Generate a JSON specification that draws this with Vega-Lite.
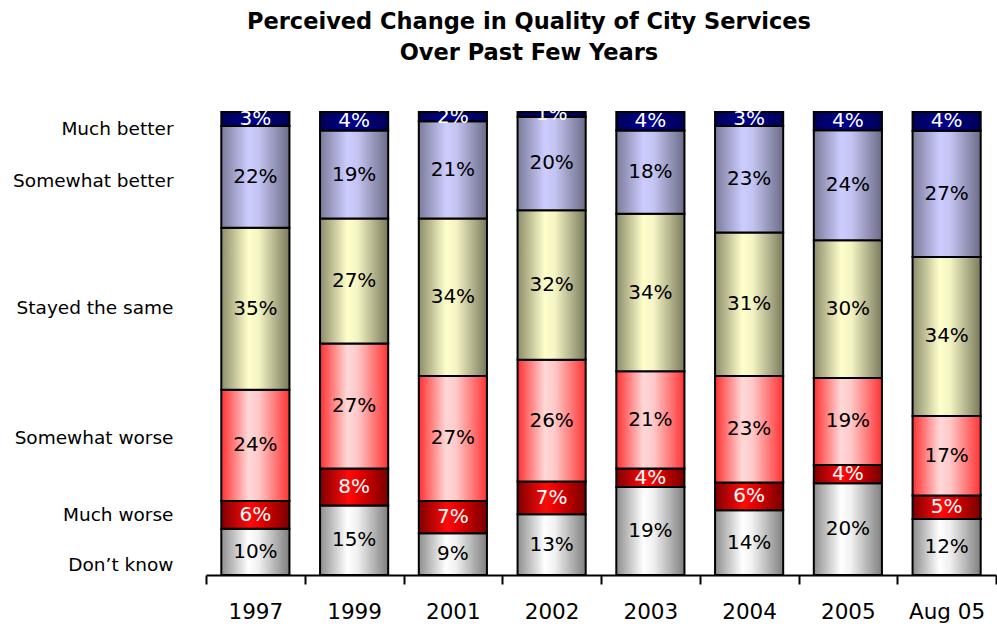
{
  "$schema": "https://vega.github.io/schema/vega-lite/v6.json",
  "width": 790,
  "height": 463,
  "autosize": {"type": "none"},
  "padding": {"left": 206, "top": 112, "right": 1, "bottom": 52},
  "background": "white",
  "title": {
    "text": ["Perceived Change in Quality of City Services", "Over Past Few Years"],
    "font": "DejaVu Sans",
    "fontSize": 22.5,
    "fontWeight": "bold",
    "color": "black",
    "lineHeight": 31,
    "anchor": "middle",
    "dx": -72,
    "offset": 40
  },
  "config": {
    "view": {"stroke": null},
    "font": "DejaVu Sans",
    "axisY": {
      "title": null,
      "domain": false,
      "ticks": false,
      "grid": false,
      "labelFontSize": 18.5,
      "labelFont": "DejaVu Sans",
      "labelColor": "black",
      "labelPadding": 33,
      "labelBaseline": "middle",
      "labelOverlap": false,
      "labelFlush": false
    }
  },
  "data": {
    "values": [
      {"year": "1997", "cat": "Don’t know", "order": 1, "value": 10},
      {"year": "1997", "cat": "Much worse", "order": 2, "value": 6},
      {"year": "1997", "cat": "Somewhat worse", "order": 3, "value": 24},
      {"year": "1997", "cat": "Stayed the same", "order": 4, "value": 35},
      {"year": "1997", "cat": "Somewhat better", "order": 5, "value": 22},
      {"year": "1997", "cat": "Much better", "order": 6, "value": 3},
      {"year": "1999", "cat": "Don’t know", "order": 1, "value": 15},
      {"year": "1999", "cat": "Much worse", "order": 2, "value": 8},
      {"year": "1999", "cat": "Somewhat worse", "order": 3, "value": 27},
      {"year": "1999", "cat": "Stayed the same", "order": 4, "value": 27},
      {"year": "1999", "cat": "Somewhat better", "order": 5, "value": 19},
      {"year": "1999", "cat": "Much better", "order": 6, "value": 4},
      {"year": "2001", "cat": "Don’t know", "order": 1, "value": 9},
      {"year": "2001", "cat": "Much worse", "order": 2, "value": 7},
      {"year": "2001", "cat": "Somewhat worse", "order": 3, "value": 27},
      {"year": "2001", "cat": "Stayed the same", "order": 4, "value": 34},
      {"year": "2001", "cat": "Somewhat better", "order": 5, "value": 21},
      {"year": "2001", "cat": "Much better", "order": 6, "value": 2},
      {"year": "2002", "cat": "Don’t know", "order": 1, "value": 13},
      {"year": "2002", "cat": "Much worse", "order": 2, "value": 7},
      {"year": "2002", "cat": "Somewhat worse", "order": 3, "value": 26},
      {"year": "2002", "cat": "Stayed the same", "order": 4, "value": 32},
      {"year": "2002", "cat": "Somewhat better", "order": 5, "value": 20},
      {"year": "2002", "cat": "Much better", "order": 6, "value": 1},
      {"year": "2003", "cat": "Don’t know", "order": 1, "value": 19},
      {"year": "2003", "cat": "Much worse", "order": 2, "value": 4},
      {"year": "2003", "cat": "Somewhat worse", "order": 3, "value": 21},
      {"year": "2003", "cat": "Stayed the same", "order": 4, "value": 34},
      {"year": "2003", "cat": "Somewhat better", "order": 5, "value": 18},
      {"year": "2003", "cat": "Much better", "order": 6, "value": 4},
      {"year": "2004", "cat": "Don’t know", "order": 1, "value": 14},
      {"year": "2004", "cat": "Much worse", "order": 2, "value": 6},
      {"year": "2004", "cat": "Somewhat worse", "order": 3, "value": 23},
      {"year": "2004", "cat": "Stayed the same", "order": 4, "value": 31},
      {"year": "2004", "cat": "Somewhat better", "order": 5, "value": 23},
      {"year": "2004", "cat": "Much better", "order": 6, "value": 3},
      {"year": "2005", "cat": "Don’t know", "order": 1, "value": 20},
      {"year": "2005", "cat": "Much worse", "order": 2, "value": 4},
      {"year": "2005", "cat": "Somewhat worse", "order": 3, "value": 19},
      {"year": "2005", "cat": "Stayed the same", "order": 4, "value": 30},
      {"year": "2005", "cat": "Somewhat better", "order": 5, "value": 24},
      {"year": "2005", "cat": "Much better", "order": 6, "value": 4},
      {"year": "Aug 05", "cat": "Don’t know", "order": 1, "value": 12},
      {"year": "Aug 05", "cat": "Much worse", "order": 2, "value": 5},
      {"year": "Aug 05", "cat": "Somewhat worse", "order": 3, "value": 17},
      {"year": "Aug 05", "cat": "Stayed the same", "order": 4, "value": 34},
      {"year": "Aug 05", "cat": "Somewhat better", "order": 5, "value": 27},
      {"year": "Aug 05", "cat": "Much better", "order": 6, "value": 4}
    ]
  },
  "transform": [
    {"stack": "value", "groupby": ["year"], "sort": [{"field": "order", "order": "ascending"}], "offset": "normalize", "as": ["y0", "y1"]}
  ],
  "encoding": {
    "x": {
      "field": "year",
      "type": "nominal",
      "sort": ["1997", "1999", "2001", "2002", "2003", "2004", "2005", "Aug 05"],
      "scale": {"paddingInner": 0, "paddingOuter": -0.035, "align": 0},
      "axis": {
        "title": null,
        "labelAngle": 0,
        "labelFontSize": 21.5,
        "labelColor": "black",
        "labelFont": "DejaVu Sans",
        "domainColor": "black",
        "domainWidth": 2,
        "tickColor": "black",
        "tickWidth": 2,
        "tickSize": 9,
        "tickBand": "extent",
        "labelPadding": 17,
        "grid": false
      }
    },
    "y": {
      "field": "y0",
      "type": "quantitative",
      "scale": {"domain": [0, 1], "nice": false},
      "axis": {
        "values": [0.0216, 0.1317, 0.2959, 0.5767, 0.8531, 0.9654],
        "labelExpr": "datum.value > 0.9 ? 'Much better' : datum.value > 0.7 ? 'Somewhat better' : datum.value > 0.45 ? 'Stayed the same' : datum.value > 0.2 ? 'Somewhat worse' : datum.value > 0.08 ? 'Much worse' : 'Don’t know'"
      }
    },
    "y2": {"field": "y1"}
  },
  "layer": [
    {
      "transform": [{"filter": {"field": "order", "equal": 1}}],
      "mark": {"type": "bar", "width": {"band": 0.69}, "stroke": "black", "strokeWidth": 2,
        "fill": {"gradient": "linear", "x1": 0, "y1": 0, "x2": 1, "y2": 0, "stops": [
          {"offset": 0, "color": "#8e8e8e"}, {"offset": 0.4, "color": "#ffffff"}, {"offset": 0.55, "color": "#f0f0f0"}, {"offset": 1, "color": "#7f7f7f"}]}}
    },
    {
      "transform": [{"filter": {"field": "order", "equal": 2}}],
      "mark": {"type": "bar", "width": {"band": 0.69}, "stroke": "black", "strokeWidth": 2,
        "fill": {"gradient": "linear", "x1": 0, "y1": 0, "x2": 1, "y2": 0, "stops": [
          {"offset": 0, "color": "#800000"}, {"offset": 0.42, "color": "#ff0a0a"}, {"offset": 0.6, "color": "#e00000"}, {"offset": 1, "color": "#780000"}]}}
    },
    {
      "transform": [{"filter": {"field": "order", "equal": 3}}],
      "mark": {"type": "bar", "width": {"band": 0.69}, "stroke": "black", "strokeWidth": 2,
        "fill": {"gradient": "linear", "x1": 0, "y1": 0, "x2": 1, "y2": 0, "stops": [
          {"offset": 0, "color": "#ff3030"}, {"offset": 0.4, "color": "#ffd8d8"}, {"offset": 0.55, "color": "#ffc8c8"}, {"offset": 1, "color": "#ff3333"}]}}
    },
    {
      "transform": [{"filter": {"field": "order", "equal": 4}}],
      "mark": {"type": "bar", "width": {"band": 0.69}, "stroke": "black", "strokeWidth": 2,
        "fill": {"gradient": "linear", "x1": 0, "y1": 0, "x2": 1, "y2": 0, "stops": [
          {"offset": 0, "color": "#8c8c6a"}, {"offset": 0.4, "color": "#ffffcc"}, {"offset": 0.55, "color": "#f4f4c4"}, {"offset": 1, "color": "#7a7a5c"}]}}
    },
    {
      "transform": [{"filter": {"field": "order", "equal": 5}}],
      "mark": {"type": "bar", "width": {"band": 0.69}, "stroke": "black", "strokeWidth": 2,
        "fill": {"gradient": "linear", "x1": 0, "y1": 0, "x2": 1, "y2": 0, "stops": [
          {"offset": 0, "color": "#7b7b9a"}, {"offset": 0.4, "color": "#ccccff"}, {"offset": 0.55, "color": "#c4c4f2"}, {"offset": 1, "color": "#6c6c88"}]}}
    },
    {
      "transform": [{"filter": {"field": "order", "equal": 6}}],
      "mark": {"type": "bar", "width": {"band": 0.69}, "stroke": "black", "strokeWidth": 2,
        "fill": {"gradient": "linear", "x1": 0, "y1": 0, "x2": 1, "y2": 0, "stops": [
          {"offset": 0, "color": "#000058"}, {"offset": 0.45, "color": "#00008c"}, {"offset": 1, "color": "#000058"}]}}
    },
    {
      "transform": [
        {"calculate": "(datum.y0 + datum.y1) / 2", "as": "ymid"},
        {"calculate": "datum.value + '%'", "as": "label"}
      ],
      "mark": {"type": "text", "fontSize": 20, "font": "DejaVu Sans", "baseline": "middle", "align": "center"},
      "encoding": {
        "y": {"field": "ymid", "type": "quantitative"},
        "y2": null,
        "text": {"field": "label"},
        "color": {"condition": {"test": "datum.order === 2 || datum.order === 6", "value": "white"}, "value": "black"}
      }
    }
  ]
}
